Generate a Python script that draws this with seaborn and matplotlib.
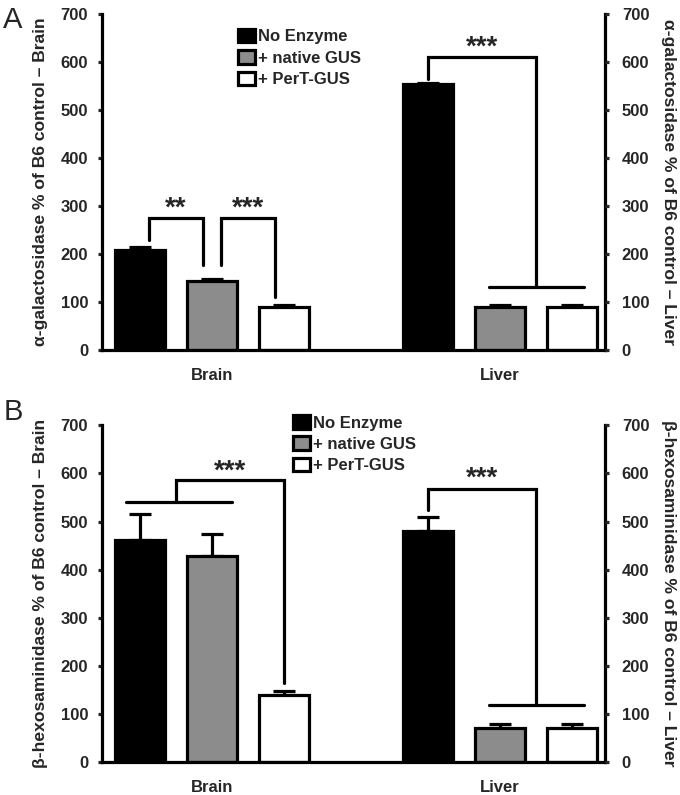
import matplotlib
matplotlib.use("Agg")
import matplotlib.pyplot as plt
from matplotlib.patches import Patch
import numpy as np
import pandas as pd
import seaborn as sns

tissues = ["Brain", "Liver"]
groups = ["No Enzyme", "+ native GUS", "+ PerT-GUS"]
colors = ["#000000", "#8c8c8c", "#ffffff"]

# panel A : alpha-galactosidase
a_brain = [208, 143, 90]
a_brain_err = [7, 4, 3]
a_liver = [553, 90, 89]
a_liver_err = [3, 3, 5]

# panel B : beta-hexosaminidase
b_brain = [461, 428, 139]
b_brain_err = [55, 47, 8]
b_liver = [480, 71, 70]
b_liver_err = [30, 8, 8]

sns.set_style("white")
plt.rcParams["font.family"] = ["Liberation Sans", "DejaVu Sans"]
plt.rcParams["font.weight"] = "bold"

LW = 2.3
TICK_FS = 12
LABEL_FS = 12.6


def make_df(brain, liver):
    rows = []
    for t, vals in zip(tissues, [brain, liver]):
        for g, v in zip(groups, vals):
            rows.append({"tissue": t, "group": g, "value": v})
    return pd.DataFrame(rows)


def bracket(ax, x1, x2, top, bot1, bot2, text, star_y):
    ax.plot([x1, x1, x2, x2], [bot1, top, top, bot2], color="k", lw=LW,
            solid_joinstyle="miter", zorder=5)
    ax.text((x1 + x2) / 2, star_y, text, ha="center", va="center",
            fontsize=20, fontweight="bold", zorder=5)


def draw_panel(ax, brain, brain_err, liver, liver_err, enzyme, legend_xy):
    df = make_df(brain, liver)
    sns.barplot(data=df, x="tissue", y="value", hue="group", order=tissues,
                hue_order=groups, palette=colors, width=0.75, gap=0.3,
                edgecolor="k", linewidth=LW, errorbar=None, ax=ax,
                legend=False, zorder=2)
    errs = [brain_err, liver_err]
    centers = []
    bar_conts = list(ax.containers)
    for k, cont in enumerate(bar_conts):
        xs = [b.get_x() + b.get_width() / 2 for b in cont.patches]
        ys = [b.get_height() for b in cont.patches]
        ee = [errs[i][k] for i in range(len(tissues))]
        ax.errorbar(xs, ys, yerr=[np.zeros(len(ee)), ee], fmt="none",
                    ecolor="k", elinewidth=LW, capsize=8, capthick=LW,
                    zorder=1)
        centers.append(xs)
    centers = np.array(centers)  # [group, tissue]

    ax.set_ylim(0, 700)
    ax.set_xlim(-0.382, 1.365)
    ax.set_yticks(range(0, 701, 100))
    ax.set_xlabel("")
    ax.set_ylabel("%s %% of B6 control \u2013 Brain" % enzyme,
                  fontsize=LABEL_FS, fontweight="bold", labelpad=9)
    ax.tick_params(axis="y", labelsize=TICK_FS, length=3, width=LW, pad=7,
                   direction="out", left=True)
    ax.tick_params(axis="x", labelsize=TICK_FS, length=0, pad=13)
    for lab in ax.get_xticklabels() + ax.get_yticklabels():
        lab.set_fontweight("bold")
    for s in ["left", "bottom", "right"]:
        ax.spines[s].set_linewidth(LW)
        ax.spines[s].set_color("k")
    ax.spines["top"].set_visible(False)

    tw = ax.twinx()
    tw.set_ylim(0, 700)
    tw.set_yticks(range(0, 701, 100))
    tw.tick_params(axis="y", labelsize=TICK_FS, length=3, width=LW, pad=9,
                   direction="out", right=True)
    for lab in tw.get_yticklabels():
        lab.set_fontweight("bold")
    tw.set_ylabel("%s %% of B6 control \u2013 Liver" % enzyme,
                  fontsize=LABEL_FS, fontweight="bold", rotation=270,
                  labelpad=19)
    for s in ["left", "bottom", "right", "top"]:
        tw.spines[s].set_visible(False)

    handles = [Patch(facecolor=c, edgecolor="k", linewidth=LW) for c in colors]
    ax.legend(handles, groups, loc="upper left", bbox_to_anchor=legend_xy,
              frameon=False, fontsize=TICK_FS, handlelength=1.0,
              handleheight=0.85, handletextpad=0.2, labelspacing=0.35,
              borderaxespad=0, borderpad=0)
    return centers


fig = plt.figure(figsize=(6.8, 7.95), dpi=100)
ax_a = fig.add_axes([0.15, 0.560, 0.74, 0.4225])
ax_b = fig.add_axes([0.15, 0.0415, 0.74, 0.4235])

c = draw_panel(ax_a, a_brain, a_brain_err, a_liver, a_liver_err,
               "\u03b1-galactosidase", (0.27, 0.955))
d = 0.03
bracket(ax_a, c[0, 0] + d, c[1, 0] - d, 275, 229, 177, "**", 294)
bracket(ax_a, c[1, 0] + d, c[2, 0] - d, 275, 177, 110, "***", 294)
x_pair = (c[1, 1] + c[2, 1]) / 2
bracket(ax_a, c[0, 1], x_pair, 610, 565, 131, "***", 630)
ax_a.plot([c[1, 1] - 0.04, c[2, 1] + 0.04], [131, 131], color="k", lw=LW,
          zorder=5)

c = draw_panel(ax_b, b_brain, b_brain_err, b_liver, b_liver_err,
               "\u03b2-hexosaminidase", (0.38, 1.03))
x_pair = (c[0, 0] + c[1, 0]) / 2
ax_b.plot([c[0, 0] - 0.05, c[1, 0] + 0.07], [541, 541], color="k", lw=LW,
          zorder=5)
bracket(ax_b, x_pair, c[2, 0], 586, 541, 164, "***", 604)
x_pair = (c[1, 1] + c[2, 1]) / 2
bracket(ax_b, c[0, 1], x_pair, 567, 524, 118, "***", 590)
ax_b.plot([c[1, 1] - 0.04, c[2, 1] + 0.04], [118, 118], color="k", lw=LW,
          zorder=5)

fig.text(0.005, 0.993, "A", fontsize=21, fontweight="normal", va="top")
fig.text(0.005, 0.500, "B", fontsize=21, fontweight="normal", va="top")

fig.savefig("out.png", dpi=100, facecolor="white")
